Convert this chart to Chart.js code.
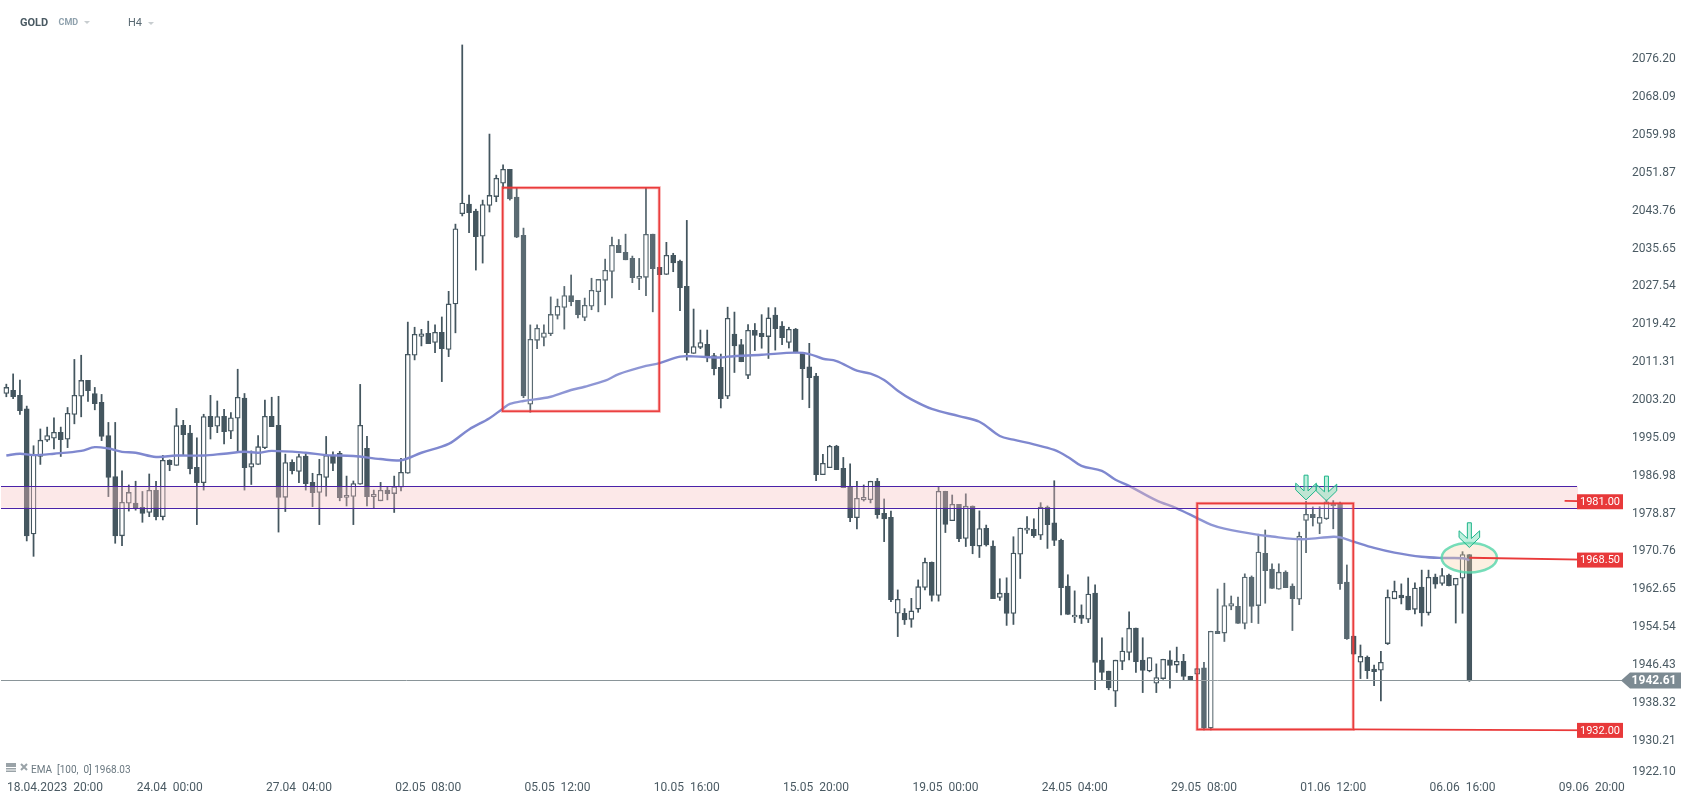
<!DOCTYPE html>
<html><head><meta charset="utf-8">
<style>html,body{margin:0;padding:0;background:#fff;overflow:hidden}canvas{display:block}</style>
<script src="https://cdn.jsdelivr.net/npm/chart.js@4"></script>
</head><body><canvas id="c" width="1691" height="801"></canvas>
<script>
const opens=[2004.1,2004.8,2003.7,2000.8,1974,1990.6,1994.1,1994.5,1995.8,1994.3,1999.6,2003.5,2006.9,2004.1,2002.2,1995.1,1986.3,1973.6,1980.6,1980.6,
1979.7,1978.6,1983.35,1977.7,1989.8,1988.7,1997.3,1995.6,1988.3,1985,1999.2,1997.1,1999.2,1996,1998.8,2003.1,1988.3,1988.9,1992.5,1999.2,
1997.3,1981.85,1989.35,1987.4,1990.7,1985.05,1982.9,1986.1,1990.7,1991.3,1981.85,1982.05,1984.65,1992.35,1982,1981.1,1983.4,1982.65,1984,1987,
2012.3,2016.35,2017,2015.05,2017.2,2013.55,2023.3,2042.65,2044.7,2043.2,2037.8,2044.4,2046.3,2049.15,2052.15,2046.2,2038,2001.8,2015.5,2016.1,
2016.9,2020.85,2022.55,2025.1,2024.05,2020.4,2022.8,2025.9,2028.35,2030.25,2035.85,2034.35,2033.05,2028.75,2029,2038.25,2031.15,2029.6,2033.7,2032.5,
2027.05,2012.7,2014,2014.65,2012.25,2009.7,2003.5,2016.85,2014.6,2008,2017.65,2017,2016.3,2020.9,2018.55,2015.05,2017.9,2012.9,2009.8,2007.85,
1986.7,1988.2,1992.85,1988.05,1984.15,1977.5,1981.3,1981.35,1985.3,1978.4,1977.55,1957,1957,1955.7,1957.9,1962.55,1967.9,1960.8,1983.15,1976.85,
1980.35,1973.05,1979.95,1971.4,1975.2,1971.4,1960.4,1961.3,1956.95,1969.65,1974.8,1975,1973.75,1979.75,1976.4,1972.65,1962.8,1956.2,1956.6,1955.75,
1961.3,1946.95,1944.6,1940.3,1946.7,1948.6,1953.8,1946.95,1944.65,1942,1943,1947,1945.9,1946.7,1943.5,1943.95,1945.3,1932.4,1953.15,1952.75,
1958.5,1958.5,1954.8,1964.75,1958.65,1969.85,1966.45,1962.15,1965.8,1962.85,1960,1976.9,1978.2,1976.25,1977.25,1980.5,1980.55,1963.7,1952.1,1946.5,
1947.55,1945.05,1944.8,1950.5,1960.1,1960.9,1960.7,1957.85,1962.6,1957.1,1964.75,1963.4,1965.2,1963,1964.5,1969.6];
const highs=[2006.1,2008.3,2007,2001.4,1992.9,1996.5,1996.9,1998.9,1996.9,2001.1,2011.4,2012.3,2006.9,2005.4,2003.9,1997.9,1997.9,1987.5,1984.5,1985.3,
1983.1,1986.85,1985.3,1990.85,1989.9,2000.9,1998.35,1997.3,1994.6,1999.65,2003.7,2002.5,2000.7,2000,2009.3,2004.1,1991.8,1995.1,2002.7,2003.3,
2003.5,1991.1,1989.9,1991.1,1991.1,1987,1990,1994.9,1991.6,1991.7,1986.4,1985.35,2006.05,1994.9,1983.4,1985.05,1984.1,1986.4,1990.2,2019.4,
2018.3,2017.85,2019.6,2018.8,2020.5,2026,2040.4,2078.8,2046.6,2043.6,2045.55,2059.7,2050.9,2053.1,2052.15,2048.15,2039.55,2018.8,2018.8,2018.8,
2024.8,2024.35,2027.05,2029.5,2024.05,2024.55,2028.8,2028.55,2032.9,2037.6,2037.1,2038.25,2033.55,2033.05,2048.2,2038.25,2031.15,2036.5,2034.15,2032.7,
2041.2,2022.2,2017.7,2017.7,2012.7,2012.55,2022.6,2021.55,2015.7,2018.85,2019.1,2021,2022.5,2022.5,2019.5,2018.3,2018.05,2012.9,2014.85,2008.4,
1991.05,1993,1993,1990.4,1989,1985.3,1984.5,1985.3,1985.9,1981.5,1978.9,1962,1958,1960.2,1964.15,1968.85,1968,1984.1,1983.15,1982.35,
1980.35,1982.6,1980,1978.95,1975.9,1972.5,1964.4,1964.6,1973.4,1975.25,1977.7,1977.25,1980.7,1980,1985.4,1972.9,1965.25,1961.8,1958.8,1964.8,
1963.1,1951.75,1944.6,1946.95,1951.75,1957.3,1953.8,1951.75,1947.5,1946.15,1947.15,1948.95,1949.75,1948.2,1943.5,1945.15,1946.5,1953.15,1962.2,1963.45,
1960.7,1960.45,1965.45,1965,1973.95,1974.85,1967.6,1967.6,1966.1,1963.3,1974.4,1981,1979.8,1979.85,1981.3,1981.15,1980.85,1967.35,1952.1,1950.2,
1947.85,1945.9,1948.85,1962,1963.9,1963.3,1964.55,1963.5,1966.25,1966.25,1965.4,1966.6,1965.4,1964.5,1970.2,1969.6];
const lows=[2003.4,2003,1999.6,1972.5,1969.2,1988.9,1993.8,1992.2,1990.6,1992.5,1997.6,1999.1,2002.4,2000.6,1994,1982,1972,1971.5,1978.9,1979.1,
1976.5,1977.7,1977,1977,1987.55,1988.7,1990.85,1986.85,1976,1983.4,1994.35,1995.7,1993.3,1994.4,1991.6,1983.4,1984.6,1988.9,1992.3,1997,
1974.4,1978.8,1986.85,1985,1983.4,1979.85,1976,1982.1,1987.55,1981.1,1980,1976,1984.65,1980,1979.5,1981.1,1981.3,1978.6,1983.2,1987,
2011.3,2014.3,2014.8,2012.85,2006.65,2012,2017.1,2042.15,2038.55,2030.55,2032.05,2043,2045.2,2048,2045.55,2037.5,2003.2,2000.1,2013.7,2014.3,
2016.5,2020.05,2017.9,2022.9,2020.3,2019.7,2022.05,2021.6,2023.1,2024.6,2034.3,2032.75,2027.85,2026.35,2025.05,2021.6,2029.55,2029.6,2030.2,2021.85,
2011.25,2012.7,2013.7,2010.9,2008.1,2001,2003,2008.6,2010.9,2007.3,2013.3,2013.8,2011.6,2013.4,2014.55,2013.85,2012.8,2002.8,2001.05,1985.4,
1986.7,1988.2,1987.8,1983.9,1976.65,1975.05,1981.05,1980.65,1977.35,1972.35,1959.5,1952,1954.6,1954,1957.2,1962,1959.6,1959.6,1974.3,1976.85,
1972.35,1971.3,1969.75,1968.95,1971.4,1960.15,1959.75,1954.4,1954.6,1964.45,1974.1,1973.25,1972.8,1970.9,1971.5,1956.65,1956.75,1955,1954.8,1955,
1940.6,1942.75,1940.6,1937,1944.9,1947,1944.3,1940,1944.45,1940,1942.85,1940.95,1944.3,1942.75,1942.7,1942.7,1932,1932,1952.65,1950.95,
1957.75,1954.8,1953.65,1955,1954.8,1959.15,1962.3,1962.15,1962.5,1953.3,1958.85,1970,1975.7,1974.05,1977.1,1975.1,1962.1,1951.4,1948.25,1943,
1943,1941.5,1938.2,1950.3,1960.1,1959,1957.7,1956.85,1954.25,1956.6,1962.35,1963,1962.85,1954.9,1957,1942.4];
const closes=[2005.4,2003.4,2000.4,1973.6,1990.9,1994.1,1995.1,1995.8,1994.2,1999.85,2003.7,2006.9,2004.7,2001.9,1994.9,1986.1,1973.6,1980.8,1982.9,1979.4,
1978.4,1983.35,1977.7,1989.8,1988.85,1997.2,1995.3,1988,1985,1999.15,1997,1999.15,1995.9,1998.9,2003.3,1988.2,1989.1,1992.7,1999.2,1997,
1981.85,1989.3,1987.55,1990.6,1984.8,1982.85,1986.8,1990.8,1989.1,1981.8,1982.3,1984.8,1997.3,1982,1982.5,1983.35,1982.65,1984.1,1987.2,2012.5,
2016.8,2016.9,2014.8,2017.2,2013.7,2023.3,2039.4,2044.9,2042.85,2037.7,2044.6,2046.55,2050.2,2052.15,2045.8,2037.6,2003.6,2015.7,2018.05,2017.1,
2021.05,2022.8,2025.1,2023.8,2021,2023,2026.2,2028.55,2030.5,2035.85,2034.3,2032.75,2028.9,2029.2,2038.2,2030.85,2029.55,2033.7,2032.1,2026.8,
2012.85,2014.15,2015,2012,2009.4,2003,2020.2,2014.3,2010.9,2017.65,2016.55,2016.3,2020.3,2018,2016.05,2017.85,2012.85,2009.4,2007.5,1986.7,
1989.15,1992.8,1987.8,1983.9,1977.5,1981.65,1981.85,1985.3,1978.15,1977.2,1959.9,1960,1955.6,1957.5,1962.7,1967.9,1960.8,1983.15,1976.05,1980.35,
1973,1979.95,1971.5,1975.15,1971.65,1960.15,1961.3,1956.95,1969.9,1975.25,1975.25,1973.65,1979.75,1976,1972.6,1962.5,1956.75,1956.6,1955.9,1961.1,
1946.45,1944.3,1941,1946.95,1948.9,1953.8,1946.6,1944.75,1947.5,1943.2,1947.15,1945.8,1946.7,1943.45,1942.75,1945.15,1932.4,1953.15,1952.65,1958.65,
1959.1,1954.8,1964.75,1958.45,1970.1,1966.15,1962.3,1965.8,1962.5,1960.15,1973.5,1978.2,1977.5,1977.55,1980.9,1980.05,1963.35,1951.55,1948.25,1947.75,
1944.7,1944.5,1946.5,1960.4,1961.7,1960.3,1957.7,1962.4,1957.05,1964.7,1963.25,1965.1,1962.9,1964.5,1969.6,1942.61];

const emaIdx=[0,2,4,7,11,13,15,17,19,22,25,29,32,35,37,39,44,47,51,55,58,61,65,68,71,73,74,76,80,83,85,88,90,94,96,99,101,105,106,111,116,118,120,122,125,127,129,131,133,136,140,143,146,148,151,154,156,158,161,163,165,169,172,175,177,179,184,186,189,191,195,196,198,201,204,208,211,214,215];
const emaVal=[1990.8,1991.2,1990.9,1991.2,1991.8,1992.6,1992.3,1991.6,1991.4,1990.5,1990.8,1990.8,1991.2,1991.6,1991.4,1991.8,1991.4,1990.9,1990.7,1990.05,1989.8,1991.4,1993.3,1996.4,1998.8,2000.9,2001.85,2002.5,2003.4,2004.85,2005.55,2006.85,2008.25,2010,2010.6,2012,2012.05,2011.8,2012,2012.4,2012.85,2012.55,2011.55,2011.05,2009,2008.35,2007,2004.7,2002.85,2000.8,1999.25,1998.05,1995,1994.2,1993.2,1992,1990.5,1988.6,1987.5,1985.6,1984.3,1981.2,1979.5,1977.4,1976,1975.15,1973.8,1973.45,1972.95,1972.9,1973.4,1973.25,1972.35,1971,1970,1969.1,1968.85,1968.8,1968.4];

const yTickPos=[2075.7,2067.59,2059.48,2051.37,2043.26,2035.15,2027.04,2018.92,2010.81,2002.7,1994.59,1986.48,1978.37,1970.26,1962.15,1954.04,1945.93,1937.82,1929.71,1923];
const yTickLabels=["2076.20","2068.09","2059.98","2051.87","2043.76","2035.65","2027.54","2019.42","2011.31","2003.20","1995.09","1986.98","1978.87","1970.76","1962.65","1954.54","1946.43","1938.32","1930.21","1922.10"];
const xTickPos=[7.15,24,43,62,81,100,119,138,157,176,195,214,233];
const xTickLabels=["18.04.2023  20:00","24.04  00:00","27.04  04:00","02.05  08:00","05.05  12:00","10.05  16:00","15.05  20:00","19.05  00:00","24.05  04:00","29.05  08:00","01.06  12:00","06.06  16:00","09.06  20:00"];

const bandPrices=[1984.2,1979.6];
const boxA=[72.94,95.95,2048.2,2000.3];
const boxB=[175,197.94,1980.55,1932.1];
const lastPrice=1942.61;
const levels=[{label:"1981.00",from:[229,1981.1],to:[236,1980.9]},{label:"1968.50",from:[215,1968.9],to:[236,1968.4]},{label:"1932.00",from:[197.94,1932.1],to:[236,1931.9]}];
const arrows=[[191,1981.3],[194,1981.1],[215,1971.1]];
const ellipseAt=[215,1968.9];

const DARK='#44565f', RED='#ea3a3a';
const idx=opens.map((_,i)=>i);
const overlay={id:'overlay',afterDatasetsDraw(ch){
  const c=ch.ctx,X=ch.scales.x,Y=ch.scales.y,A=ch.chartArea;
  const px=v=>X.getPixelForValue(v),py=v=>Y.getPixelForValue(v);
  c.save();
  c.strokeStyle='#8a9599';c.lineWidth=1;c.beginPath();c.moveTo(1,Math.round(py(lastPrice))+.5);c.lineTo(1623,Math.round(py(lastPrice))+.5);c.stroke();
  const bt=py(bandPrices[0]),bb=py(bandPrices[1]);
  c.fillStyle='rgba(247,192,192,.364)';c.fillRect(1,bt,A.right-46,bb-bt);
  c.strokeStyle='#4a22a8';c.lineWidth=1;
  [bt,bb].forEach(y=>{c.beginPath();c.moveTo(1,Math.round(y)+.5);c.lineTo(A.right-46,Math.round(y)+.5);c.stroke();});
  [boxA,boxB].forEach(b=>{
    const x=px(b[0]),w=px(b[1])-x,y=py(b[2]),h=py(b[3])-y;
    c.fillStyle='rgba(255,255,255,.12)';c.fillRect(x,y,w,h);
    c.strokeStyle='rgba(238,58,58,.45)';c.lineWidth=3;c.strokeRect(x,y,w,h);
    c.strokeStyle=RED;c.lineWidth=1.4;c.strokeRect(x,y,w,h);
  });
  c.beginPath();c.ellipse(px(ellipseAt[0]),py(ellipseAt[1]),27.7,14.7,0,0,Math.PI*2);
  c.fillStyle='rgba(248,205,165,.33)';c.fill();c.strokeStyle='rgba(84,214,170,.8)';c.lineWidth=2.5;c.stroke();
  c.font='11px Roboto';c.textAlign='center';c.textBaseline='middle';
  levels.forEach(l=>{
    c.strokeStyle=RED;c.lineWidth=1.8;c.beginPath();c.moveTo(px(l.from[0]),py(l.from[1]));c.lineTo(px(l.to[0]),py(l.to[1]));c.stroke();
    const y=py(l.to[1]);
    c.fillStyle='#e8393a';c.fillRect(1577,y-7.5,46,15);
    c.fillStyle='#fff';c.fillText(l.label,1600,y+.5);
  });
  const ly=py(lastPrice);
  c.fillStyle='#7c8a92';c.beginPath();c.moveTo(1621,ly);c.lineTo(1630,ly-8);c.lineTo(1681,ly-8);c.lineTo(1681,ly+8);c.lineTo(1630,ly+8);c.closePath();c.fill();
  c.fillStyle='#fff';c.font='bold 12px Roboto';c.fillText(lastPrice.toFixed(2),1654,ly+.5);
  arrows.forEach(a=>{
    const x=px(a[0]),y=py(a[1]);
    const s=[[-2,-24.7],[2,-24.7],[2,-9],[10.3,-16.7],[10.3,-10],[0,0],[-10.3,-10],[-10.3,-16.7],[-2,-9]];
    c.beginPath();s.forEach((p,i)=>i?c.lineTo(x+p[0],y+p[1]):c.moveTo(x+p[0],y+p[1]));c.closePath();
    c.fillStyle='rgba(130,225,190,.5)';c.fill();c.strokeStyle='#1db58a';c.lineWidth=1;c.stroke();
  });
  c.textAlign='left';c.textBaseline='middle';
  c.fillStyle='#4a5a63';c.font='bold 11px Roboto';c.fillText('GOLD',20,23);
  c.fillStyle='#8fa1ad';c.font='bold 9px Roboto';c.fillText('CMD',58.5,23);
  c.fillStyle='#5a6a73';c.font='11px Roboto';c.fillText('H4',128,23);
  c.fillStyle='#c8cdd0';
  [[84,21],[148,22]].forEach(t=>{c.beginPath();c.moveTo(t[0],t[1]);c.lineTo(t[0]+6,t[1]);c.lineTo(t[0]+3,t[1]+3);c.closePath();c.fill();});
  c.fillStyle='#9aa3a8';c.fillRect(6,763,10,4);c.fillRect(6,768,10,1.5);c.fillRect(6,770.5,10,1.5);
  c.strokeStyle='#9aa3a8';c.lineWidth=2;c.beginPath();c.moveTo(21,764);c.lineTo(27,770);c.moveTo(27,764);c.lineTo(21,770);c.stroke();
  c.fillStyle='#6a7880';c.font='10px Roboto';c.fillText('EMA  [100,  0] 1968.03',31,770);
  c.restore();
}};

new Chart(document.getElementById('c'),{
  type:'bar',
  plugins:[overlay],
  data:{datasets:[
    {type:'line',order:1,data:emaIdx.map((x,i)=>({x,y:emaVal[i]})),borderColor:'#7f88cf',borderWidth:2.4,pointRadius:0,tension:.35,fill:false},
    {type:'bar',order:2,grouped:false,barThickness:5,borderSkipped:false,borderWidth:1.3,borderColor:DARK,
      backgroundColor:idx.map(i=>closes[i]>opens[i]?'#ffffff':DARK),
      data:idx.map(i=>({x:i,y:[opens[i],closes[i]]}))},
    {type:'bar',order:3,grouped:false,barThickness:1.1,borderWidth:0,backgroundColor:DARK,
      data:idx.map(i=>({x:i,y:[lows[i],highs[i]]}))}
  ]},
  options:{
    responsive:false,animation:false,devicePixelRatio:1,
    layout:{padding:{top:40,left:0,right:0,bottom:0}},
    plugins:{legend:{display:false},tooltip:{enabled:false},title:{display:false}},
    scales:{
      x:{type:'linear',min:-0.93,max:237.58,offset:false,grid:{display:false},border:{display:false},
        afterBuildTicks(s){s.ticks=xTickPos.map(value=>({value}));},
        afterFit(s){s.height=29;},
        ticks:{autoSkip:false,maxRotation:0,minRotation:0,padding:1,color:'#4a5a63',font:{family:'Roboto',size:12},
          callback:(v,i)=>xTickLabels[i]}},
      y:{type:'linear',position:'right',min:1922.98,max:2079.86,grid:{display:false},border:{display:false},
        afterBuildTicks(s){s.ticks=yTickPos.map(value=>({value}));},
        afterFit(s){s.width=68;},
        ticks:{autoSkip:false,padding:1,color:'#4a5a63',font:{family:'Roboto',size:12},
          callback:(v,i)=>yTickLabels[i]}}
    }
  }
});
</script></body></html>
